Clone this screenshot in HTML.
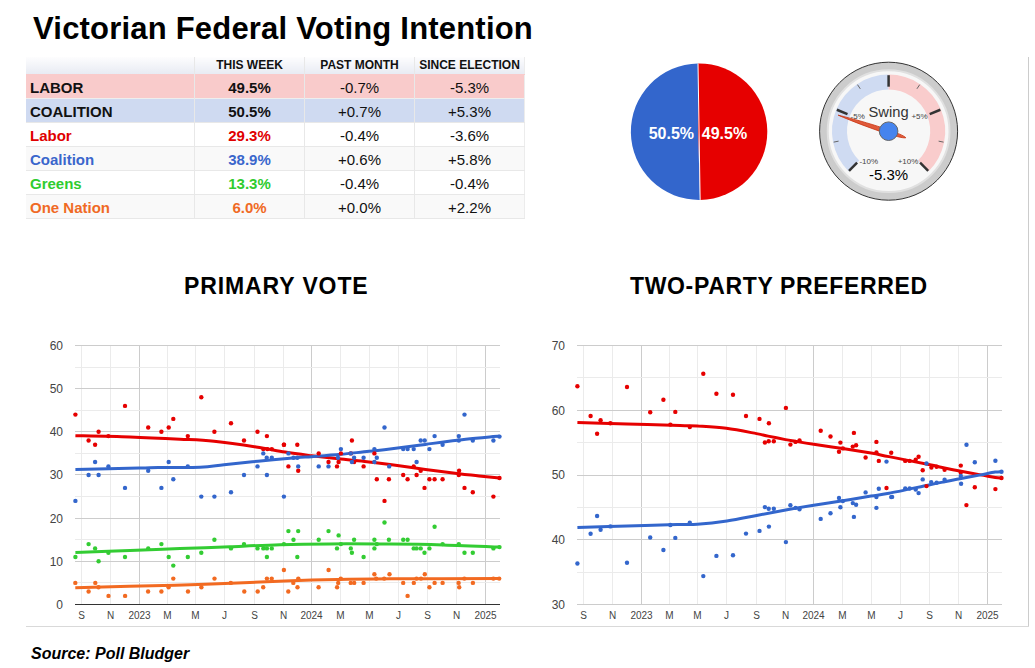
<!DOCTYPE html>
<html><head><meta charset="utf-8"><style>
html,body{margin:0;padding:0;background:#fff;}
body{width:1035px;height:668px;position:relative;overflow:hidden;font-family:"Liberation Sans",sans-serif;}
.abs{position:absolute;}
#title{left:33px;top:11px;font-size:31px;letter-spacing:0.2px;font-weight:bold;color:#000;white-space:nowrap;transform-origin:0 0;}
table{position:absolute;left:26px;top:57px;border-collapse:collapse;border-right:1px solid #ececec;border-bottom:1px solid #e8e8e8;}
td{padding:2px 0 0 0;height:21px;font-size:15px;text-align:center;border-top:1px solid #e8e8e8;border-left:1px solid #e8e8e8;color:#111;}
td:first-child{border-left:none;text-align:left;font-weight:bold;}
tr td:first-child{padding-left:4px;}
tr.h td{height:16px;padding-top:0;padding-bottom:1px;font-size:12px;font-weight:bold;border-top:none;background:linear-gradient(#fdfdfe,#e8ebf3);color:#111;}
td.b{font-weight:bold;}
tr.lab td{background:#f9cbcb;border-top-color:#f9cbcb;}
tr.coa td{background:#cfdaf1;border-top-color:#eeeeee;}
tr.alt td{background:#f9f9f9;}
#src{left:31px;top:644.7px;font-size:16px;font-weight:bold;font-style:italic;white-space:nowrap;}
.ct{top:272.5px;font-size:23px;font-weight:bold;white-space:nowrap;letter-spacing:0.65px;}
#vline{left:1028px;top:57px;width:1px;height:570px;background:#cccccc;}
#hline{left:26px;top:626px;width:1003px;height:1px;background:#d9d9d9;}
</style></head><body>
<div id="title" class="abs">Victorian Federal Voting Intention</div>
<table>
<tr class="h"><td style="width:164px"></td><td style="width:109px">THIS WEEK</td><td style="width:109px">PAST MONTH</td><td style="width:109px">SINCE ELECTION</td></tr>
<tr class="lab"><td>LABOR</td><td class="b">49.5%</td><td>-0.7%</td><td>-5.3%</td></tr>
<tr class="coa"><td>COALITION</td><td class="b">50.5%</td><td>+0.7%</td><td>+5.3%</td></tr>
<tr><td style="color:#e00000">Labor</td><td class="b" style="color:#e00000">29.3%</td><td>-0.4%</td><td>-3.6%</td></tr>
<tr class="alt"><td style="color:#3a66cc">Coalition</td><td class="b" style="color:#3a66cc">38.9%</td><td>+0.6%</td><td>+5.8%</td></tr>
<tr><td style="color:#2fcc2f">Greens</td><td class="b" style="color:#2fcc2f">13.3%</td><td>-0.4%</td><td>-0.4%</td></tr>
<tr class="alt"><td style="color:#f06a24">One Nation</td><td class="b" style="color:#f06a24">6.0%</td><td>+0.0%</td><td>+2.2%</td></tr>
</table>
<div class="abs ct" style="left:184px;letter-spacing:0.9px">PRIMARY VOTE</div>
<div class="abs ct" style="left:630px">TWO-PARTY PREFERRED</div>
<div id="vline" class="abs"></div>
<div id="hline" class="abs"></div>
<svg class="abs" style="left:0;top:0" width="1035" height="668" font-family="Liberation Sans, sans-serif">
<line x1="81.5" y1="345" x2="81.5" y2="605" stroke="#ebebeb" stroke-width="1"/><line x1="110.5" y1="345" x2="110.5" y2="605" stroke="#ebebeb" stroke-width="1"/><line x1="139.5" y1="345" x2="139.5" y2="605" stroke="#cccccc" stroke-width="1"/><line x1="167.5" y1="345" x2="167.5" y2="605" stroke="#ebebeb" stroke-width="1"/><line x1="195.5" y1="345" x2="195.5" y2="605" stroke="#ebebeb" stroke-width="1"/><line x1="224.5" y1="345" x2="224.5" y2="605" stroke="#ebebeb" stroke-width="1"/><line x1="254.5" y1="345" x2="254.5" y2="605" stroke="#ebebeb" stroke-width="1"/><line x1="283.5" y1="345" x2="283.5" y2="605" stroke="#ebebeb" stroke-width="1"/><line x1="311.5" y1="345" x2="311.5" y2="605" stroke="#cccccc" stroke-width="1"/><line x1="340.5" y1="345" x2="340.5" y2="605" stroke="#ebebeb" stroke-width="1"/><line x1="369.5" y1="345" x2="369.5" y2="605" stroke="#ebebeb" stroke-width="1"/><line x1="398.5" y1="345" x2="398.5" y2="605" stroke="#ebebeb" stroke-width="1"/><line x1="427.5" y1="345" x2="427.5" y2="605" stroke="#ebebeb" stroke-width="1"/><line x1="456.5" y1="345" x2="456.5" y2="605" stroke="#ebebeb" stroke-width="1"/><line x1="485.5" y1="345" x2="485.5" y2="605" stroke="#cccccc" stroke-width="1"/><line x1="75" y1="582.5" x2="500" y2="582.5" stroke="#ebebeb" stroke-width="1"/><line x1="75" y1="539.5" x2="500" y2="539.5" stroke="#ebebeb" stroke-width="1"/><line x1="75" y1="496.5" x2="500" y2="496.5" stroke="#ebebeb" stroke-width="1"/><line x1="75" y1="453.5" x2="500" y2="453.5" stroke="#ebebeb" stroke-width="1"/><line x1="75" y1="410.5" x2="500" y2="410.5" stroke="#ebebeb" stroke-width="1"/><line x1="75" y1="367.5" x2="500" y2="367.5" stroke="#ebebeb" stroke-width="1"/><line x1="75" y1="561.5" x2="500" y2="561.5" stroke="#cccccc" stroke-width="1"/><line x1="75" y1="518.5" x2="500" y2="518.5" stroke="#cccccc" stroke-width="1"/><line x1="75" y1="474.5" x2="500" y2="474.5" stroke="#cccccc" stroke-width="1"/><line x1="75" y1="431.5" x2="500" y2="431.5" stroke="#cccccc" stroke-width="1"/><line x1="75" y1="388.5" x2="500" y2="388.5" stroke="#cccccc" stroke-width="1"/><line x1="75" y1="345.5" x2="500" y2="345.5" stroke="#cccccc" stroke-width="1"/><line x1="75" y1="604.5" x2="500" y2="604.5" stroke="#333333" stroke-width="1"/><text x="81.5" y="618.8" text-anchor="middle" font-size="10" fill="#444">S</text><text x="110.5" y="618.8" text-anchor="middle" font-size="10" fill="#444">N</text><text x="139.5" y="618.8" text-anchor="middle" font-size="10" fill="#444">2023</text><text x="167.5" y="618.8" text-anchor="middle" font-size="10" fill="#444">M</text><text x="195.5" y="618.8" text-anchor="middle" font-size="10" fill="#444">M</text><text x="224.5" y="618.8" text-anchor="middle" font-size="10" fill="#444">J</text><text x="254.5" y="618.8" text-anchor="middle" font-size="10" fill="#444">S</text><text x="283.5" y="618.8" text-anchor="middle" font-size="10" fill="#444">N</text><text x="311.5" y="618.8" text-anchor="middle" font-size="10" fill="#444">2024</text><text x="340.5" y="618.8" text-anchor="middle" font-size="10" fill="#444">M</text><text x="369.5" y="618.8" text-anchor="middle" font-size="10" fill="#444">M</text><text x="398.5" y="618.8" text-anchor="middle" font-size="10" fill="#444">J</text><text x="427.5" y="618.8" text-anchor="middle" font-size="10" fill="#444">S</text><text x="456.5" y="618.8" text-anchor="middle" font-size="10" fill="#444">N</text><text x="485.5" y="618.8" text-anchor="middle" font-size="10" fill="#444">2025</text><text x="63" y="608.8" text-anchor="end" font-size="12" fill="#444">0</text><text x="63" y="565.6" text-anchor="end" font-size="12" fill="#444">10</text><text x="63" y="522.5" text-anchor="end" font-size="12" fill="#444">20</text><text x="63" y="479.3" text-anchor="end" font-size="12" fill="#444">30</text><text x="63" y="436.1" text-anchor="end" font-size="12" fill="#444">40</text><text x="63" y="393.0" text-anchor="end" font-size="12" fill="#444">50</text><text x="63" y="349.8" text-anchor="end" font-size="12" fill="#444">60</text>
<line x1="583.5" y1="345" x2="583.5" y2="605" stroke="#ebebeb" stroke-width="1"/><line x1="612.5" y1="345" x2="612.5" y2="605" stroke="#ebebeb" stroke-width="1"/><line x1="641.5" y1="345" x2="641.5" y2="605" stroke="#cccccc" stroke-width="1"/><line x1="669.5" y1="345" x2="669.5" y2="605" stroke="#ebebeb" stroke-width="1"/><line x1="697.5" y1="345" x2="697.5" y2="605" stroke="#ebebeb" stroke-width="1"/><line x1="726.5" y1="345" x2="726.5" y2="605" stroke="#ebebeb" stroke-width="1"/><line x1="756.5" y1="345" x2="756.5" y2="605" stroke="#ebebeb" stroke-width="1"/><line x1="785.5" y1="345" x2="785.5" y2="605" stroke="#ebebeb" stroke-width="1"/><line x1="813.5" y1="345" x2="813.5" y2="605" stroke="#cccccc" stroke-width="1"/><line x1="842.5" y1="345" x2="842.5" y2="605" stroke="#ebebeb" stroke-width="1"/><line x1="871.5" y1="345" x2="871.5" y2="605" stroke="#ebebeb" stroke-width="1"/><line x1="900.5" y1="345" x2="900.5" y2="605" stroke="#ebebeb" stroke-width="1"/><line x1="929.5" y1="345" x2="929.5" y2="605" stroke="#ebebeb" stroke-width="1"/><line x1="958.5" y1="345" x2="958.5" y2="605" stroke="#ebebeb" stroke-width="1"/><line x1="987.5" y1="345" x2="987.5" y2="605" stroke="#cccccc" stroke-width="1"/><line x1="577" y1="572.5" x2="1002" y2="572.5" stroke="#ebebeb" stroke-width="1"/><line x1="577" y1="507.5" x2="1002" y2="507.5" stroke="#ebebeb" stroke-width="1"/><line x1="577" y1="442.5" x2="1002" y2="442.5" stroke="#ebebeb" stroke-width="1"/><line x1="577" y1="377.5" x2="1002" y2="377.5" stroke="#ebebeb" stroke-width="1"/><line x1="577" y1="604.5" x2="1002" y2="604.5" stroke="#cccccc" stroke-width="1"/><line x1="577" y1="539.5" x2="1002" y2="539.5" stroke="#cccccc" stroke-width="1"/><line x1="577" y1="475.5" x2="1002" y2="475.5" stroke="#cccccc" stroke-width="1"/><line x1="577" y1="410.5" x2="1002" y2="410.5" stroke="#cccccc" stroke-width="1"/><line x1="577" y1="345.5" x2="1002" y2="345.5" stroke="#cccccc" stroke-width="1"/><text x="583.5" y="618.8" text-anchor="middle" font-size="10" fill="#444">S</text><text x="612.5" y="618.8" text-anchor="middle" font-size="10" fill="#444">N</text><text x="641.5" y="618.8" text-anchor="middle" font-size="10" fill="#444">2023</text><text x="669.5" y="618.8" text-anchor="middle" font-size="10" fill="#444">M</text><text x="697.5" y="618.8" text-anchor="middle" font-size="10" fill="#444">M</text><text x="726.5" y="618.8" text-anchor="middle" font-size="10" fill="#444">J</text><text x="756.5" y="618.8" text-anchor="middle" font-size="10" fill="#444">S</text><text x="785.5" y="618.8" text-anchor="middle" font-size="10" fill="#444">N</text><text x="813.5" y="618.8" text-anchor="middle" font-size="10" fill="#444">2024</text><text x="842.5" y="618.8" text-anchor="middle" font-size="10" fill="#444">M</text><text x="871.5" y="618.8" text-anchor="middle" font-size="10" fill="#444">M</text><text x="900.5" y="618.8" text-anchor="middle" font-size="10" fill="#444">J</text><text x="929.5" y="618.8" text-anchor="middle" font-size="10" fill="#444">S</text><text x="958.5" y="618.8" text-anchor="middle" font-size="10" fill="#444">N</text><text x="987.5" y="618.8" text-anchor="middle" font-size="10" fill="#444">2025</text><text x="565" y="608.8" text-anchor="end" font-size="12" fill="#444">30</text><text x="565" y="544.0" text-anchor="end" font-size="12" fill="#444">40</text><text x="565" y="479.3" text-anchor="end" font-size="12" fill="#444">50</text><text x="565" y="414.6" text-anchor="end" font-size="12" fill="#444">60</text><text x="565" y="349.8" text-anchor="end" font-size="12" fill="#444">70</text>
<path d="M75.4,435.7 C84.5,435.9 112.6,436.4 130.0,437.0 C147.4,437.6 166.0,438.5 180.0,439.2 C194.0,439.9 201.3,440.0 214.0,441.3 C226.7,442.6 244.2,445.1 256.0,446.9 C267.8,448.7 275.7,450.6 285.0,452.1 C294.3,453.6 302.4,454.6 311.7,455.8 C321.0,456.9 331.1,458.0 340.7,459.0 C350.2,460.1 360.8,461.1 369.0,462.0 C377.2,463.0 380.6,463.4 390.0,464.6 C399.4,465.9 413.9,467.9 425.4,469.4 C436.9,470.9 450.1,472.6 459.0,473.7 C467.9,474.8 472.2,475.1 479.0,475.9 C485.8,476.6 496.1,477.7 499.5,478.0" fill="none" stroke="#e60000" stroke-width="3.0" stroke-linecap="butt"/>
<path d="M75.4,469.5 C86.0,469.3 125.2,468.4 139.0,468.1 C152.8,467.7 147.8,467.6 158.0,467.4 C168.2,467.3 189.0,467.7 200.0,467.2 C211.0,466.8 214.3,465.8 224.0,464.8 C233.7,463.8 246.1,462.4 258.0,461.2 C269.9,460.0 286.7,458.5 295.6,457.7 C304.6,457.0 304.2,457.2 311.7,456.7 C319.2,456.1 331.1,455.2 340.7,454.3 C350.2,453.4 360.8,452.1 369.0,451.3 C377.2,450.4 380.6,450.2 390.0,449.1 C399.4,447.9 412.8,446.0 425.4,444.4 C438.0,442.7 453.4,440.5 465.8,439.2 C478.2,437.8 493.9,436.7 499.5,436.1" fill="none" stroke="#3366cc" stroke-width="3.0" stroke-linecap="butt"/>
<path d="M75.4,552.5 C84.5,552.2 112.6,551.2 130.0,550.5 C147.4,549.9 163.3,549.2 180.0,548.6 C196.7,548.0 213.3,547.3 230.0,546.7 C246.7,546.0 263.3,545.2 280.0,544.7 C296.7,544.2 311.7,544.0 330.0,543.9 C348.3,543.7 371.2,543.9 390.0,544.1 C408.8,544.2 424.8,544.4 443.0,544.9 C461.2,545.4 490.1,546.7 499.5,547.1" fill="none" stroke="#33cc33" stroke-width="3.0" stroke-linecap="butt"/>
<path d="M75.3,587.7 C91.9,587.3 149.1,585.9 175.0,585.2 C200.9,584.5 212.5,584.1 230.8,583.3 C249.1,582.6 267.2,581.6 285.0,581.0 C302.8,580.3 319.9,579.8 337.4,579.5 C354.9,579.1 363.0,579.0 390.0,578.8 C417.0,578.7 481.2,578.6 499.5,578.6" fill="none" stroke="#f26a21" stroke-width="3.0" stroke-linecap="butt"/>
<g fill="#e60000"><circle cx="75.4" cy="414.6" r="2.2"/><circle cx="125.0" cy="405.9" r="2.2"/><circle cx="98.6" cy="431.8" r="2.2"/><circle cx="88.6" cy="440.5" r="2.2"/><circle cx="95.1" cy="444.8" r="2.2"/><circle cx="108.4" cy="436.1" r="2.2"/><circle cx="148.2" cy="427.5" r="2.2"/><circle cx="161.4" cy="431.8" r="2.2"/><circle cx="168.7" cy="427.5" r="2.2"/><circle cx="173.3" cy="418.9" r="2.2"/><circle cx="201.3" cy="397.3" r="2.2"/><circle cx="187.8" cy="436.1" r="2.2"/><circle cx="214.4" cy="431.8" r="2.2"/><circle cx="231.0" cy="423.2" r="2.2"/><circle cx="244.0" cy="440.5" r="2.2"/><circle cx="257.5" cy="431.8" r="2.2"/><circle cx="266.9" cy="436.1" r="2.2"/><circle cx="263.3" cy="449.1" r="2.2"/><circle cx="267.3" cy="449.1" r="2.2"/><circle cx="271.8" cy="449.1" r="2.2"/><circle cx="283.9" cy="444.8" r="2.2"/><circle cx="284.0" cy="444.8" r="2.2"/><circle cx="297.3" cy="444.8" r="2.2"/><circle cx="288.4" cy="466.4" r="2.2"/><circle cx="298.2" cy="470.7" r="2.2"/><circle cx="318.7" cy="453.4" r="2.2"/><circle cx="328.5" cy="462.0" r="2.2"/><circle cx="337.0" cy="466.4" r="2.2"/><circle cx="338.6" cy="462.0" r="2.2"/><circle cx="340.9" cy="453.4" r="2.2"/><circle cx="351.9" cy="440.5" r="2.2"/><circle cx="350.8" cy="453.4" r="2.2"/><circle cx="354.1" cy="462.0" r="2.2"/><circle cx="363.6" cy="466.4" r="2.2"/><circle cx="374.4" cy="453.4" r="2.2"/><circle cx="413.7" cy="466.4" r="2.2"/><circle cx="420.7" cy="470.7" r="2.2"/><circle cx="403.2" cy="475.0" r="2.2"/><circle cx="416.6" cy="475.0" r="2.2"/><circle cx="459.1" cy="470.7" r="2.2"/><circle cx="376.8" cy="479.3" r="2.2"/><circle cx="388.9" cy="479.3" r="2.2"/><circle cx="384.5" cy="500.9" r="2.2"/><circle cx="407.6" cy="479.3" r="2.2"/><circle cx="424.5" cy="487.9" r="2.2"/><circle cx="429.4" cy="479.3" r="2.2"/><circle cx="434.6" cy="479.3" r="2.2"/><circle cx="442.6" cy="479.3" r="2.2"/><circle cx="458.8" cy="475.0" r="2.2"/><circle cx="464.5" cy="487.9" r="2.2"/><circle cx="472.8" cy="492.3" r="2.2"/><circle cx="493.4" cy="496.6" r="2.2"/><circle cx="499.5" cy="478.0" r="2.2"/></g>
<g fill="#3366cc"><circle cx="95.1" cy="462.0" r="2.2"/><circle cx="88.6" cy="475.0" r="2.2"/><circle cx="98.6" cy="475.0" r="2.2"/><circle cx="108.4" cy="466.4" r="2.2"/><circle cx="148.2" cy="470.7" r="2.2"/><circle cx="168.7" cy="462.0" r="2.2"/><circle cx="173.3" cy="479.3" r="2.2"/><circle cx="187.8" cy="466.4" r="2.2"/><circle cx="263.3" cy="453.4" r="2.2"/><circle cx="266.7" cy="457.7" r="2.2"/><circle cx="271.8" cy="457.7" r="2.2"/><circle cx="257.5" cy="466.4" r="2.2"/><circle cx="244.0" cy="475.0" r="2.2"/><circle cx="266.9" cy="475.0" r="2.2"/><circle cx="288.4" cy="453.4" r="2.2"/><circle cx="293.5" cy="457.7" r="2.2"/><circle cx="297.3" cy="457.7" r="2.2"/><circle cx="298.2" cy="466.4" r="2.2"/><circle cx="318.7" cy="466.4" r="2.2"/><circle cx="328.5" cy="466.4" r="2.2"/><circle cx="338.0" cy="457.7" r="2.2"/><circle cx="340.9" cy="449.1" r="2.2"/><circle cx="351.9" cy="462.0" r="2.2"/><circle cx="354.1" cy="457.7" r="2.2"/><circle cx="363.6" cy="457.7" r="2.2"/><circle cx="374.4" cy="449.1" r="2.2"/><circle cx="374.4" cy="462.0" r="2.2"/><circle cx="376.8" cy="457.7" r="2.2"/><circle cx="384.5" cy="427.5" r="2.2"/><circle cx="389.2" cy="466.4" r="2.2"/><circle cx="350.8" cy="453.4" r="2.2"/><circle cx="403.2" cy="449.1" r="2.2"/><circle cx="407.6" cy="449.1" r="2.2"/><circle cx="413.7" cy="449.1" r="2.2"/><circle cx="416.6" cy="462.0" r="2.2"/><circle cx="420.7" cy="440.5" r="2.2"/><circle cx="424.7" cy="440.5" r="2.2"/><circle cx="429.4" cy="449.1" r="2.2"/><circle cx="434.6" cy="436.1" r="2.2"/><circle cx="442.6" cy="444.8" r="2.2"/><circle cx="458.8" cy="436.1" r="2.2"/><circle cx="458.8" cy="440.5" r="2.2"/><circle cx="464.5" cy="414.6" r="2.2"/><circle cx="472.8" cy="440.5" r="2.2"/><circle cx="493.4" cy="440.5" r="2.2"/><circle cx="499.5" cy="436.6" r="2.2"/><circle cx="75.4" cy="500.9" r="2.2"/><circle cx="125.0" cy="487.9" r="2.2"/><circle cx="161.4" cy="487.9" r="2.2"/><circle cx="201.3" cy="496.6" r="2.2"/><circle cx="214.4" cy="496.6" r="2.2"/><circle cx="231.0" cy="492.3" r="2.2"/><circle cx="283.9" cy="496.6" r="2.2"/></g>
<g fill="#33cc33"><circle cx="88.6" cy="544.1" r="2.2"/><circle cx="95.1" cy="548.4" r="2.2"/><circle cx="75.4" cy="557.0" r="2.2"/><circle cx="98.6" cy="561.3" r="2.2"/><circle cx="108.4" cy="552.7" r="2.2"/><circle cx="125.0" cy="557.0" r="2.2"/><circle cx="148.2" cy="548.4" r="2.2"/><circle cx="161.4" cy="544.1" r="2.2"/><circle cx="168.7" cy="557.0" r="2.2"/><circle cx="173.3" cy="565.6" r="2.2"/><circle cx="187.8" cy="557.0" r="2.2"/><circle cx="201.3" cy="552.7" r="2.2"/><circle cx="214.4" cy="539.7" r="2.2"/><circle cx="231.0" cy="548.4" r="2.2"/><circle cx="244.0" cy="544.1" r="2.2"/><circle cx="257.5" cy="548.4" r="2.2"/><circle cx="263.3" cy="548.4" r="2.2"/><circle cx="266.9" cy="548.4" r="2.2"/><circle cx="271.8" cy="548.4" r="2.2"/><circle cx="266.9" cy="557.0" r="2.2"/><circle cx="283.9" cy="544.1" r="2.2"/><circle cx="288.4" cy="531.1" r="2.2"/><circle cx="298.2" cy="531.1" r="2.2"/><circle cx="293.5" cy="539.7" r="2.2"/><circle cx="297.3" cy="557.0" r="2.2"/><circle cx="318.7" cy="539.7" r="2.2"/><circle cx="328.5" cy="531.1" r="2.2"/><circle cx="338.6" cy="535.4" r="2.2"/><circle cx="337.0" cy="548.4" r="2.2"/><circle cx="340.9" cy="544.1" r="2.2"/><circle cx="350.8" cy="548.4" r="2.2"/><circle cx="351.9" cy="552.7" r="2.2"/><circle cx="354.1" cy="539.7" r="2.2"/><circle cx="363.6" cy="557.0" r="2.2"/><circle cx="374.4" cy="539.7" r="2.2"/><circle cx="374.4" cy="548.4" r="2.2"/><circle cx="376.8" cy="544.1" r="2.2"/><circle cx="384.5" cy="522.5" r="2.2"/><circle cx="388.9" cy="539.7" r="2.2"/><circle cx="403.2" cy="539.7" r="2.2"/><circle cx="407.6" cy="539.7" r="2.2"/><circle cx="413.7" cy="548.4" r="2.2"/><circle cx="416.6" cy="548.4" r="2.2"/><circle cx="420.7" cy="548.4" r="2.2"/><circle cx="424.5" cy="552.7" r="2.2"/><circle cx="429.4" cy="548.4" r="2.2"/><circle cx="434.6" cy="526.8" r="2.2"/><circle cx="442.6" cy="544.1" r="2.2"/><circle cx="458.8" cy="544.1" r="2.2"/><circle cx="464.5" cy="552.7" r="2.2"/><circle cx="472.8" cy="552.7" r="2.2"/><circle cx="493.4" cy="548.4" r="2.2"/><circle cx="499.5" cy="547.1" r="2.2"/></g>
<g fill="#f26a21"><circle cx="75.3" cy="582.9" r="2.2"/><circle cx="95.3" cy="582.9" r="2.2"/><circle cx="98.5" cy="587.2" r="2.2"/><circle cx="88.6" cy="591.5" r="2.2"/><circle cx="108.5" cy="595.9" r="2.2"/><circle cx="125.1" cy="595.9" r="2.2"/><circle cx="148.1" cy="591.5" r="2.2"/><circle cx="161.4" cy="591.5" r="2.2"/><circle cx="168.6" cy="587.2" r="2.2"/><circle cx="173.3" cy="578.6" r="2.2"/><circle cx="188.0" cy="591.5" r="2.2"/><circle cx="201.4" cy="587.2" r="2.2"/><circle cx="214.5" cy="578.6" r="2.2"/><circle cx="230.8" cy="582.9" r="2.2"/><circle cx="244.3" cy="591.5" r="2.2"/><circle cx="257.7" cy="591.5" r="2.2"/><circle cx="263.2" cy="587.2" r="2.2"/><circle cx="266.9" cy="578.6" r="2.2"/><circle cx="271.7" cy="578.6" r="2.2"/><circle cx="283.9" cy="570.0" r="2.2"/><circle cx="288.3" cy="591.5" r="2.2"/><circle cx="293.3" cy="582.9" r="2.2"/><circle cx="297.5" cy="587.2" r="2.2"/><circle cx="298.3" cy="578.6" r="2.2"/><circle cx="318.6" cy="587.2" r="2.2"/><circle cx="328.6" cy="570.0" r="2.2"/><circle cx="337.1" cy="587.2" r="2.2"/><circle cx="338.2" cy="582.9" r="2.2"/><circle cx="340.8" cy="578.6" r="2.2"/><circle cx="350.7" cy="582.9" r="2.2"/><circle cx="354.2" cy="582.9" r="2.2"/><circle cx="363.6" cy="582.9" r="2.2"/><circle cx="374.4" cy="574.3" r="2.2"/><circle cx="376.2" cy="578.6" r="2.2"/><circle cx="384.2" cy="578.6" r="2.2"/><circle cx="389.5" cy="574.3" r="2.2"/><circle cx="403.2" cy="582.9" r="2.2"/><circle cx="407.6" cy="595.9" r="2.2"/><circle cx="413.8" cy="582.9" r="2.2"/><circle cx="416.5" cy="578.6" r="2.2"/><circle cx="421.0" cy="578.6" r="2.2"/><circle cx="424.8" cy="574.3" r="2.2"/><circle cx="429.4" cy="587.2" r="2.2"/><circle cx="434.6" cy="582.9" r="2.2"/><circle cx="442.6" cy="582.9" r="2.2"/><circle cx="458.6" cy="582.9" r="2.2"/><circle cx="459.2" cy="587.2" r="2.2"/><circle cx="464.4" cy="578.6" r="2.2"/><circle cx="472.9" cy="582.9" r="2.2"/><circle cx="493.4" cy="578.6" r="2.2"/><circle cx="499.2" cy="578.6" r="2.2"/></g>
<path d="M577.4,422.6 C585.7,422.8 609.9,423.4 627.0,423.9 C644.1,424.4 668.3,425.0 680.0,425.4 C691.7,425.8 689.7,425.5 697.4,426.0 C705.1,426.5 716.5,427.0 726.4,428.3 C736.2,429.6 749.5,432.3 756.5,433.6 C763.5,434.9 763.3,435.1 768.1,436.1 C772.9,437.1 780.9,438.7 785.5,439.6 C790.1,440.5 791.3,440.6 796.0,441.4 C800.7,442.2 805.9,443.1 813.7,444.3 C821.5,445.5 833.2,447.1 842.7,448.6 C852.2,450.1 863.3,451.8 871.0,453.1 C878.7,454.4 879.2,454.7 889.0,456.6 C898.8,458.6 920.8,462.9 930.0,464.8 C939.2,466.7 939.3,466.9 944.5,468.0 C949.7,469.1 955.2,470.2 961.2,471.3 C967.2,472.4 975.0,473.8 980.7,474.9 C986.4,475.9 991.7,477.1 995.2,477.6 C998.7,478.1 1000.5,478.0 1001.5,478.1" fill="none" stroke="#e60000" stroke-width="3.0"/>
<path d="M577.4,527.5 C585.7,527.2 610.4,526.5 627.0,526.0 C643.6,525.5 665.3,524.9 677.0,524.6 C688.7,524.3 688.9,524.9 697.2,524.3 C705.5,523.7 716.8,522.5 726.9,521.0 C737.0,519.5 747.9,517.1 757.9,515.2 C767.9,513.3 777.7,511.5 787.0,509.8 C796.3,508.1 804.4,506.7 813.7,505.2 C823.0,503.7 833.2,502.2 842.7,500.7 C852.2,499.2 863.3,497.3 871.0,496.1 C878.7,494.9 879.2,495.2 889.0,493.3 C898.8,491.4 920.8,486.6 930.0,484.7 C939.2,482.8 939.3,482.8 944.5,481.8 C949.7,480.8 955.2,479.6 961.2,478.5 C967.2,477.4 975.0,476.0 980.7,474.9 C986.4,473.8 991.7,472.7 995.2,472.1 C998.7,471.6 1000.5,471.7 1001.5,471.6" fill="none" stroke="#3366cc" stroke-width="3.0"/>
<g fill="#e60000"><circle cx="577.4" cy="386.3" r="2.2"/><circle cx="627.0" cy="387.0" r="2.2"/><circle cx="590.6" cy="416.0" r="2.2"/><circle cx="600.6" cy="420.3" r="2.2"/><circle cx="597.1" cy="433.8" r="2.2"/><circle cx="610.4" cy="423.2" r="2.2"/><circle cx="650.2" cy="412.2" r="2.2"/><circle cx="663.4" cy="399.8" r="2.2"/><circle cx="675.3" cy="411.9" r="2.2"/><circle cx="670.4" cy="424.6" r="2.2"/><circle cx="703.3" cy="373.8" r="2.2"/><circle cx="716.4" cy="393.8" r="2.2"/><circle cx="733.0" cy="394.7" r="2.2"/><circle cx="746.0" cy="416.0" r="2.2"/><circle cx="759.5" cy="418.9" r="2.2"/><circle cx="768.9" cy="423.2" r="2.2"/><circle cx="689.8" cy="427.0" r="2.2"/><circle cx="764.9" cy="442.5" r="2.2"/><circle cx="768.7" cy="441.2" r="2.2"/><circle cx="773.8" cy="441.2" r="2.2"/><circle cx="785.9" cy="407.9" r="2.2"/><circle cx="790.4" cy="444.6" r="2.2"/><circle cx="795.5" cy="441.9" r="2.2"/><circle cx="799.5" cy="440.5" r="2.2"/><circle cx="820.7" cy="430.8" r="2.2"/><circle cx="830.5" cy="436.5" r="2.2"/><circle cx="840.4" cy="442.6" r="2.2"/><circle cx="839.0" cy="451.7" r="2.2"/><circle cx="842.9" cy="448.4" r="2.2"/><circle cx="853.9" cy="432.9" r="2.2"/><circle cx="852.8" cy="446.6" r="2.2"/><circle cx="856.1" cy="445.3" r="2.2"/><circle cx="865.6" cy="457.5" r="2.2"/><circle cx="876.4" cy="441.9" r="2.2"/><circle cx="876.4" cy="452.4" r="2.2"/><circle cx="878.8" cy="460.9" r="2.2"/><circle cx="891.2" cy="452.8" r="2.2"/><circle cx="905.2" cy="460.9" r="2.2"/><circle cx="909.6" cy="460.9" r="2.2"/><circle cx="915.7" cy="459.6" r="2.2"/><circle cx="918.6" cy="456.7" r="2.2"/><circle cx="922.7" cy="470.2" r="2.2"/><circle cx="931.4" cy="467.6" r="2.2"/><circle cx="936.6" cy="466.8" r="2.2"/><circle cx="944.6" cy="469.7" r="2.2"/><circle cx="960.8" cy="465.6" r="2.2"/><circle cx="960.8" cy="472.6" r="2.2"/><circle cx="926.5" cy="486.1" r="2.2"/><circle cx="974.8" cy="487.2" r="2.2"/><circle cx="995.4" cy="489.1" r="2.2"/><circle cx="886.5" cy="488.0" r="2.2"/><circle cx="1001.5" cy="478.0" r="2.2"/><circle cx="966.4" cy="505.1" r="2.2"/></g>
<g fill="#3366cc"><circle cx="577.4" cy="563.5" r="2.2"/><circle cx="597.1" cy="516.0" r="2.2"/><circle cx="590.6" cy="533.8" r="2.2"/><circle cx="600.6" cy="529.8" r="2.2"/><circle cx="610.4" cy="526.4" r="2.2"/><circle cx="627.0" cy="562.8" r="2.2"/><circle cx="650.2" cy="537.5" r="2.2"/><circle cx="663.4" cy="550.0" r="2.2"/><circle cx="675.3" cy="537.9" r="2.2"/><circle cx="670.4" cy="525.0" r="2.2"/><circle cx="689.8" cy="522.8" r="2.2"/><circle cx="716.4" cy="555.9" r="2.2"/><circle cx="733.0" cy="555.2" r="2.2"/><circle cx="746.0" cy="533.6" r="2.2"/><circle cx="759.5" cy="530.9" r="2.2"/><circle cx="768.9" cy="526.6" r="2.2"/><circle cx="764.9" cy="507.1" r="2.2"/><circle cx="768.7" cy="508.7" r="2.2"/><circle cx="773.8" cy="508.7" r="2.2"/><circle cx="785.9" cy="542.1" r="2.2"/><circle cx="703.3" cy="576.1" r="2.2"/><circle cx="790.4" cy="505.2" r="2.2"/><circle cx="795.5" cy="507.9" r="2.2"/><circle cx="799.5" cy="509.2" r="2.2"/><circle cx="820.7" cy="518.9" r="2.2"/><circle cx="830.5" cy="513.2" r="2.2"/><circle cx="839.0" cy="498.0" r="2.2"/><circle cx="840.4" cy="507.2" r="2.2"/><circle cx="842.9" cy="501.1" r="2.2"/><circle cx="852.8" cy="503.1" r="2.2"/><circle cx="856.1" cy="504.8" r="2.2"/><circle cx="853.9" cy="516.9" r="2.2"/><circle cx="865.6" cy="492.4" r="2.2"/><circle cx="876.4" cy="497.1" r="2.2"/><circle cx="876.4" cy="507.9" r="2.2"/><circle cx="878.8" cy="488.7" r="2.2"/><circle cx="886.5" cy="461.6" r="2.2"/><circle cx="891.2" cy="497.1" r="2.2"/><circle cx="966.5" cy="444.7" r="2.2"/><circle cx="974.8" cy="462.3" r="2.2"/><circle cx="995.4" cy="460.8" r="2.2"/><circle cx="926.5" cy="463.5" r="2.2"/><circle cx="922.7" cy="479.4" r="2.2"/><circle cx="931.2" cy="482.1" r="2.2"/><circle cx="936.6" cy="482.7" r="2.2"/><circle cx="944.6" cy="479.8" r="2.2"/><circle cx="960.8" cy="476.0" r="2.2"/><circle cx="961.1" cy="483.8" r="2.2"/><circle cx="905.2" cy="488.5" r="2.2"/><circle cx="909.6" cy="488.5" r="2.2"/><circle cx="915.7" cy="489.5" r="2.2"/><circle cx="918.6" cy="493.1" r="2.2"/><circle cx="892.1" cy="496.9" r="2.2"/><circle cx="1001.5" cy="471.7" r="2.2"/></g>
<path d="M698.0,131.8 L698.0,63.5 A68.2,68.2 0 0 1 700.14,199.92 Z" fill="#e60000"/><path d="M698.0,131.8 L700.14,199.92 A68.2,68.2 0 0 1 698.0,63.5 Z" fill="#3366cc"/><line x1="698.0" y1="63.5" x2="700.14" y2="199.92" stroke="#fff" stroke-width="1"/><text x="671.4" y="139.2" text-anchor="middle" font-size="16" font-weight="bold" fill="#fff">50.5%</text><text x="724.5" y="139.2" text-anchor="middle" font-size="16" font-weight="bold" fill="#fff">49.5%</text>
<circle cx="888.6" cy="131.2" r="69.0" fill="#cccccc" stroke="#333" stroke-width="1"/><circle cx="888.6" cy="131.2" r="60.9" fill="#f7f7f7" stroke="#e0e0e0" stroke-width="2"/><path d="M848.58,171.22 A56.60,56.60 0 0 1 888.60,74.60 L888.60,89.60 A41.60,41.60 0 0 0 859.18,160.62 Z" fill="#cfdbf2"/><path d="M888.60,74.60 A56.60,56.60 0 0 1 928.62,171.22 L918.02,160.62 A41.60,41.60 0 0 0 888.60,89.60 Z" fill="#f9cccc"/><line x1="857.13" y1="162.67" x2="849.00" y2="170.80" stroke="#333" stroke-width="2.5"/><line x1="838.58" y1="141.15" x2="833.68" y2="142.13" stroke="#666" stroke-width="1"/><line x1="847.49" y1="114.17" x2="836.86" y2="109.77" stroke="#333" stroke-width="2.5"/><line x1="860.27" y1="88.80" x2="857.49" y2="84.64" stroke="#666" stroke-width="1"/><line x1="888.60" y1="86.70" x2="888.60" y2="75.20" stroke="#333" stroke-width="2.5"/><line x1="916.93" y1="88.80" x2="919.71" y2="84.64" stroke="#666" stroke-width="1"/><line x1="929.71" y1="114.17" x2="940.34" y2="109.77" stroke="#333" stroke-width="2.5"/><line x1="938.62" y1="141.15" x2="943.52" y2="142.13" stroke="#666" stroke-width="1"/><line x1="920.07" y1="162.67" x2="928.20" y2="170.80" stroke="#333" stroke-width="2.5"/><text x="888.6" y="116.8" text-anchor="middle" font-size="14.7" fill="#333">Swing</text><text x="857.7" y="118.7" text-anchor="middle" font-size="8" fill="#444">-5%</text><text x="919.5" y="118.7" text-anchor="middle" font-size="8" fill="#444">+5%</text><text x="868.8" y="163.9" text-anchor="middle" font-size="8" fill="#444">-10%</text><text x="908" y="163.9" text-anchor="middle" font-size="8" fill="#444">+10%</text><text x="888.6" y="179.7" text-anchor="middle" font-size="15" fill="#000">-5.3%</text><path d="M838.13,115.16 C868.55,122.57 902.80,133.68 905.86,137.76 C900.96,139.18 866.91,127.50 838.13,115.16 Z" fill="#e05a3a" stroke="#c63310" stroke-width="0.8"/><circle cx="888.6" cy="131.2" r="9.3" fill="#4684ee" stroke="#666" stroke-width="1"/>
</svg>
<div id="src" class="abs">Source: Poll Bludger</div>
</body></html>
